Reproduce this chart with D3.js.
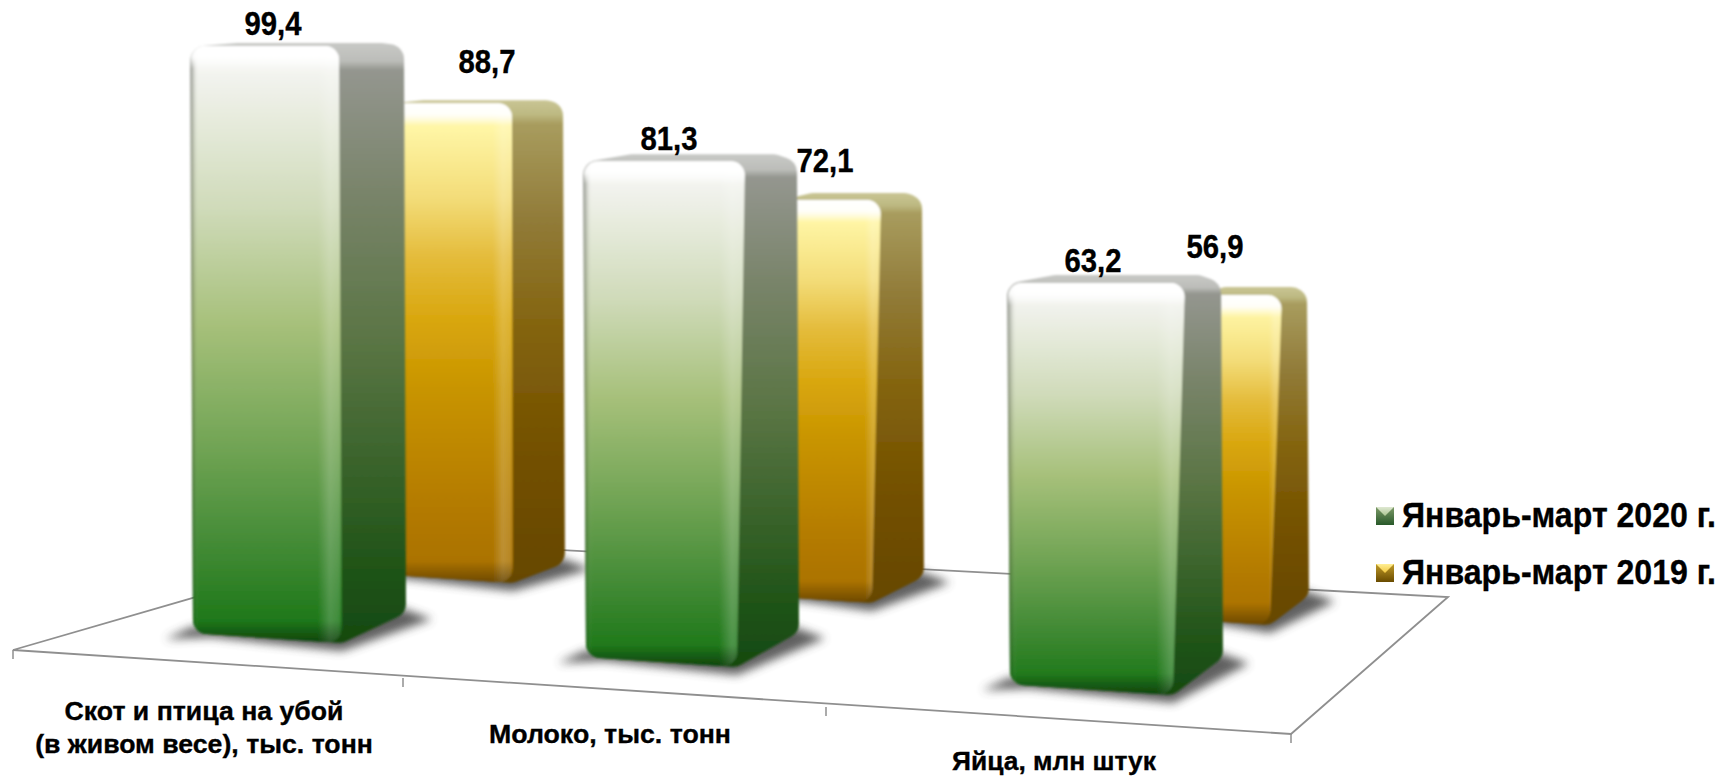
<!DOCTYPE html>
<html>
<head>
<meta charset="utf-8">
<title>Январь-март</title>
<script src="https://d3js.org/d3.v7.min.js"></script>
<style>
  body { margin: 0; background: #fff; }
  text { font-family: "Liberation Sans", Arial, sans-serif; font-weight: bold; fill: #000; stroke: #000; stroke-width: 0.35px; }
</style>
</head>
<body>
<svg id="chart" width="1723" height="777"></svg>
<script>
// data
const categories = [["Скот и птица на убой", "(в живом весе), тыс. тонн"], ["Молоко, тыс. тонн"], ["Яйца, млн штук"]];
const seriesNames = ["Январь-март 2020 г.", "Январь-март 2019 г."];
const values2020 = [99.4, 81.3, 63.2];
const values2019 = [88.7, 72.1, 56.9];

const fmt = d3.formatLocale({decimal: ",", thousands: " ", grouping: [3], currency: ["", ""]}).format(".1f");

// the picture is in perspective, so every scale below depends on the category index
const idx = [0, 1, 2];
const layout = {
  2020: {
    left: d3.scaleLinear(idx, [191, 584, 1008]),
    right: d3.scaleLinear(idx, [339, 745, 1185]),
    lean: d3.scaleLinear(idx, [3, -8, -12]),
    side: d3.scaleLinear(idx, [404, 797, 1221]),
    base: d3.scaleLinear(idx, [643, 667, 695]),
    unit: d3.scaleLinear(idx, [6.006, 6.22, 6.52]),
    slope: d3.scaleLinear(idx, [0.48, 0.58, 0.78]),
    rise: d3.scaleLinear(idx, [3, 7, 8]),
    labelDx: [82, 85, 85],
    labelDy: [11, 11, 11]
  },
  2019: {
    left: d3.scaleLinear(idx, [385, 780, 1200]),
    right: d3.scaleLinear(idx, [512, 881, 1282]),
    lean: d3.scaleLinear(idx, [1, -9, -12]),
    side: d3.scaleLinear(idx, [563, 922, 1307]),
    base: d3.scaleLinear(idx, [583, 603, 625]),
    unit: d3.scaleLinear(idx, [5.41, 5.59, 5.8]),
    slope: d3.scaleLinear(idx, [0.4, 0.53, 0.8]),
    rise: d3.scaleLinear(idx, [3, 7, 8]),
    labelDx: [102, 45, 15],
    labelDy: [30, 28, 37]
  }
};

const svg = d3.select("#chart");
const defs = svg.append("defs");

function gradient(id, stops, horizontal) {
  const g = defs.append("linearGradient").attr("id", id)
    .attr("x1", 0).attr("y1", 0)
    .attr("x2", horizontal ? 1 : 0).attr("y2", horizontal ? 0 : 1);
  stops.forEach(s => g.append("stop").attr("offset", s[0]).attr("stop-color", s[1]).attr("stop-opacity", s[2] === undefined ? 1 : s[2]));
}

gradient("front2020", [[0, "#ffffff"], [0.05, "#f2f3ee"], [0.27, "#d0dbba"], [0.47, "#a6c07a"], [0.68, "#6fa353"], [0.83, "#458c37"], [0.96, "#20791b"], [1, "#176a14"]]);
gradient("side2020", [[0, "#c8c9c6"], [0.03, "#bcbdb9"], [0.045, "#94968f"], [0.25, "#79846a"], [0.5, "#5a7544"], [0.72, "#376229"], [0.88, "#1f5317"], [1, "#164a10"]]);
gradient("front2019", [[0, "#fffde0"], [0.05, "#fff6a6"], [0.2, "#f3dc78"], [0.32, "#e4bc3c"], [0.45, "#d9a70f"], [0.6, "#c89400"], [0.85, "#b37a00"], [1, "#a87000"]]);
gradient("side2019", [[0, "#c9c594"], [0.03, "#bdb982"], [0.05, "#a89c5e"], [0.25, "#917b38"], [0.45, "#856612"], [0.7, "#755200"], [1, "#664700"]]);
gradient("edge", [[0, "#30362a", 0.4], [0.025, "#30362a", 0.1], [0.05, "#ffffff", 0], [0.84, "#ffffff", 0], [0.92, "#ffffff", 0.2], [0.98, "#ffffff", 0.14], [1, "#ffffff", 0]], true);
gradient("capWhite", [[0, "#ffffff", 1], [0.4, "#ffffff", 0.9], [0.8, "#ffffff", 0]]);
gradient("footDark", [[0, "#000000", 0], [1, "#000000", 0.36]]);
gradient("mark2020", [[0, "#7d9a68"], [1, "#28592a"]]);
gradient("mark2019", [[0, "#c09a28"], [1, "#694b00"]]);
gradient("notch2020", [[0, "#dfe8d2"], [1, "#a9c590"]]);
gradient("notch2019", [[0, "#ffef95"], [1, "#f2c63c"]]);

defs.append("filter").attr("id", "soft").append("feGaussianBlur").attr("stdDeviation", 1.1);
defs.append("filter").attr("id", "shadow")
  .attr("x", "-20%").attr("y", "-60%").attr("width", "140%").attr("height", "220%")
  .append("feGaussianBlur").attr("stdDeviation", 5);
defs.append("filter").attr("id", "line").append("feGaussianBlur").attr("stdDeviation", 0.5);

function roundPoly(pts, r) {
  const p = d3.path(), n = pts.length;
  p.moveTo((pts[0][0] + pts[n - 1][0]) / 2, (pts[0][1] + pts[n - 1][1]) / 2);
  for (let i = 0; i < n; i++) {
    const q = pts[(i + 1) % n];
    p.arcTo(pts[i][0], pts[i][1], q[0], q[1], r);
  }
  p.closePath();
  return p.toString();
}

// floor
const floorLine = d3.line();
const tickX = d3.scaleLinear([0, 1, 2, 3], [13, 403, 826, 1291]);
const tickY = d3.scaleLinear([0, 1, 2, 3], [650, 678, 707, 734]);
const floorCorners = [[13, 650], [1291, 734], [1448, 597], [389, 541]];

const floor = svg.append("g").attr("filter", "url(#line)");
floor.append("path")
  .attr("d", floorLine(floorCorners) + "Z")
  .attr("fill", "#fff").attr("stroke", "#8f8f8f").attr("stroke-width", 1.8);
floor.selectAll("line").data(d3.range(4)).join("line")
  .attr("x1", tickX).attr("x2", tickX)
  .attr("y1", tickY).attr("y2", d => tickY(d) + 9)
  .attr("stroke", "#8f8f8f").attr("stroke-width", 1.5);

function drawBar(i, value, year) {
  const L = layout[year];
  const y = d3.scaleLinear([0, 100], [L.base(i), L.base(i) - 100 * L.unit(i)]);
  const left = L.left(i), right = L.right(i), side = L.side(i);
  const rightFoot = right + L.lean(i);
  const bottom = y(0), top = y(value), rise = L.rise(i);
  const tilt = (rightFoot - left) * 0.065;
  const sideBottom = bottom - (side - rightFoot) * L.slope(i);

  svg.append("path")
    .attr("d", floorLine([[left - 26, bottom - tilt + 6], [left + 20, bottom - tilt + 4], [rightFoot, bottom + 8], [side + 28, sideBottom + 6], [side - 5, sideBottom - 6], [left, bottom - tilt - 6]]) + "Z")
    .attr("fill", "#454545").attr("opacity", 0.85).attr("filter", "url(#shadow)");

  const g = svg.append("g").attr("filter", "url(#soft)");
  const w = side - left;
  g.append("path")
    .attr("d", roundPoly([[left - 1, top + 1], [left + w * 0.22, top - rise], [side - w * 0.1, top - rise], [side, top], [side + 2, sideBottom], [rightFoot, bottom], [left + 2, bottom - tilt]], 15))
    .attr("fill", `url(#side${year})`);
  const face = roundPoly([[left, top], [right, top], [rightFoot, bottom], [left + 2, bottom - tilt]], 14);
  const clipId = `face${year}${i}`;
  defs.append("clipPath").attr("id", clipId).append("path").attr("d", face);
  g.append("path").attr("d", face).attr("fill", `url(#front${year})`);
  g.append("path").attr("d", face).attr("fill", "url(#edge)");
  const over = g.append("g").attr("clip-path", `url(#${clipId})`);
  over.append("rect")
    .attr("x", left).attr("y", top).attr("width", Math.max(right, rightFoot) - left).attr("height", 28)
    .attr("fill", "url(#capWhite)");
  over.append("rect")
    .attr("x", left).attr("y", bottom - 22).attr("width", Math.max(right, rightFoot) - left).attr("height", 22)
    .attr("fill", "url(#footDark)");

  svg.append("text")
    .attr("class", "value")
    .attr("x", left + L.labelDx[i])
    .attr("y", top - L.labelDy[i])
    .attr("text-anchor", "middle")
    .attr("font-size", 33)
    .attr("textLength", 57).attr("lengthAdjust", "spacingAndGlyphs")
    .text(fmt(value));
}

// back to front
idx.forEach(i => {
  drawBar(i, values2019[i], 2019);
  drawBar(i, values2020[i], 2020);
});

// category labels
const labelX = d3.scaleOrdinal(idx, [204, 610, 1054]);
const labelY = d3.scaleOrdinal(idx, [720, 743, 770]);
const labelWidths = [[279, 338], [242], [204]];
idx.forEach(i => {
  categories[i].forEach((line, k) => {
    const t = svg.append("text")
      .attr("text-anchor", "middle")
      .attr("font-size", 26)
      .text(line);
    // squeeze with a transform so the text box stays inside the page
    const sx = labelWidths[i][k] / t.node().getComputedTextLength();
    t.attr("transform", `translate(${labelX(i)},${labelY(i) + k * 33}) scale(${sx},1)`);
  });
});

// legend
const legendY = d3.scalePoint([2020, 2019], [527, 584]);
[2020, 2019].forEach((year, k) => {
  const base = legendY(year);
  svg.append("rect")
    .attr("x", 1376).attr("y", base - 20).attr("width", 18).attr("height", 18)
    .attr("fill", `url(#mark${year})`);
  svg.append("path")
    .attr("d", floorLine([[1376, base - 20], [1394, base - 20], [1385, base - 11]]) + "Z")
    .attr("fill", `url(#notch${year})`);
  const t = svg.append("text")
    .attr("font-size", 35)
    .text(seriesNames[k]);
  const sx = 314 / t.node().getComputedTextLength();
  t.attr("transform", `translate(1402,${base}) scale(${sx},1)`);
});
</script>
</body>
</html>
